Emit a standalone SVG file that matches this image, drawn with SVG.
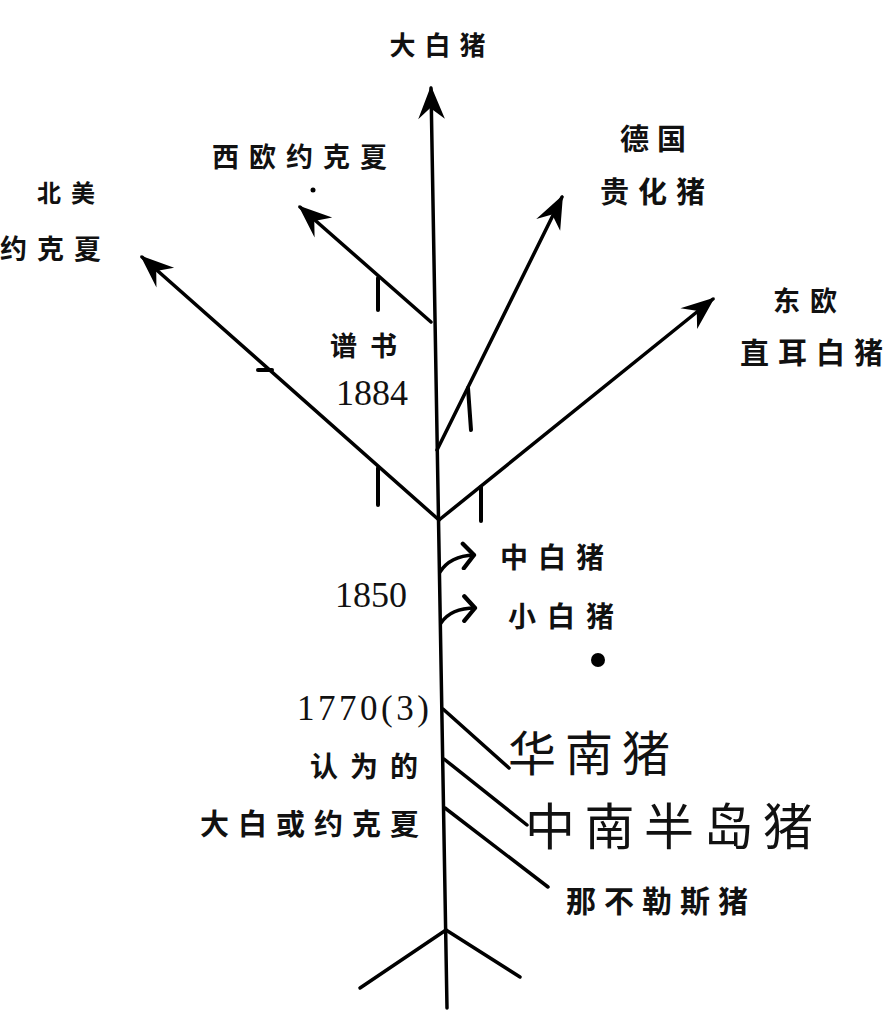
<svg xmlns="http://www.w3.org/2000/svg" width="896" height="1020" viewBox="0 0 896 1020">
<style>
.ln{stroke:#000;stroke-width:3.5;fill:none;stroke-linecap:round;stroke-linejoin:round}
.tk{stroke:#000;stroke-width:4;fill:none;stroke-linecap:round}
.cj{font-family:"Noto Sans CJK SC","Noto Sans CJK JP",sans-serif;font-weight:700;fill:#111}
.big{font-family:"Noto Sans CJK SC","Noto Sans CJK JP",sans-serif;font-weight:400;fill:#111}
.num{font-family:"Liberation Serif","DejaVu Serif",serif;fill:#111}
</style>
<defs>
<marker id="ah" markerUnits="userSpaceOnUse" markerWidth="40" markerHeight="40" viewBox="-32 -16 36 32" refX="0" refY="0" orient="auto">
<path d="M2,0 L-28,-12 L-18,-1 L-28,12 Z" fill="#000"/>
</marker>
<marker id="sh" markerUnits="userSpaceOnUse" markerWidth="20" markerHeight="30" viewBox="-14 -14 18 28" refX="0" refY="0" orient="auto">
<path d="M-10,-11 L0,0 L-10,12" fill="none" stroke="#000" stroke-width="4" stroke-linecap="round" stroke-linejoin="round"/>
</marker>
</defs>
<g id="connectors">
<line class="ln" x1="447" y1="1008" x2="431" y2="88" marker-end="url(#ah)"/>
<line class="ln" x1="431" y1="322" x2="300" y2="207" marker-end="url(#ah)"/>
<line class="ln" x1="439" y1="520" x2="142" y2="257" marker-end="url(#ah)"/>
<line class="ln" x1="437" y1="450" x2="562" y2="197" marker-end="url(#ah)"/>
<line class="ln" x1="439" y1="520" x2="713" y2="299" marker-end="url(#ah)"/>
<line class="tk" x1="378" y1="278" x2="378" y2="310"/>
<line class="tk" x1="378" y1="468" x2="378" y2="505"/>
<line class="tk" x1="258" y1="370" x2="272" y2="370"/>
<line class="tk" x1="481" y1="487" x2="481" y2="521"/>
<line class="tk" x1="468" y1="388" x2="471" y2="430"/>
<circle cx="313" cy="190" r="2.5" fill="#000"/>
<path class="ln" d="M440,572 Q450,556 474,555" marker-end="url(#sh)"/>
<path class="ln" d="M441,623 Q451,608 475,608" marker-end="url(#sh)"/>
<line class="ln" x1="443" y1="709" x2="509" y2="768"/>
<line class="ln" x1="444" y1="759" x2="527" y2="825"/>
<line class="ln" x1="445" y1="808" x2="548" y2="887"/>
<line class="ln" x1="446" y1="930" x2="360" y2="988"/>
<line class="ln" x1="446" y1="930" x2="520" y2="977"/>
</g>
<g id="n-dabai"><text class="cj" x="442" y="55" font-size="26" letter-spacing="9" text-anchor="middle">大白猪</text></g>
<g id="n-xiou"><text class="cj" x="212" y="167" font-size="27" letter-spacing="10">西欧约克夏</text></g>
<g id="n-beimei"><text class="cj" x="37" y="202" font-size="24" letter-spacing="10">北美</text><text class="cj" x="0" y="259" font-size="27" letter-spacing="10">约克夏</text></g>
<g id="n-deguo"><text class="cj" x="620" y="150" font-size="29" letter-spacing="8">德国</text><text class="cj" x="600" y="203" font-size="29" letter-spacing="9">贵化猪</text></g>
<g id="n-dongou"><text class="cj" x="773" y="311" font-size="27" letter-spacing="10">东欧</text><text class="cj" x="740" y="364" font-size="29" letter-spacing="9">直耳白猪</text></g>
<g id="n-pushu"><text class="cj" x="330" y="356" font-size="27" letter-spacing="13">谱书</text><text class="num" x="336" y="405" font-size="36">1884</text></g>
<g id="n-zhongbai"><text class="cj" x="500" y="568" font-size="28" letter-spacing="10">中白猪</text></g>
<g id="n-xiaobai"><text class="cj" x="508" y="627" font-size="28" letter-spacing="11">小白猪</text></g>
<g id="n-1850"><text class="num" x="335" y="607" font-size="36">1850</text></g>
<circle cx="598" cy="660" r="7" fill="#000"/>
<g id="n-1770"><text class="num" x="297" y="720" font-size="35" letter-spacing="3.5">1770(3)</text></g>
<g id="n-renwei"><text class="cj" x="310" y="777" font-size="28" letter-spacing="12">认为的</text><text class="cj" x="200" y="835" font-size="29" letter-spacing="9">大白或约克夏</text></g>
<g id="n-huanan"><text class="big" x="508" y="771" font-size="48" letter-spacing="9">华南猪</text></g>
<g id="n-zhongnan"><text class="big" x="525" y="845" font-size="50" letter-spacing="9.5">中南半岛猪</text></g>
<g id="n-nabule"><text class="cj" x="566" y="912" font-size="30" letter-spacing="8">那不勒斯猪</text></g>
</svg>
